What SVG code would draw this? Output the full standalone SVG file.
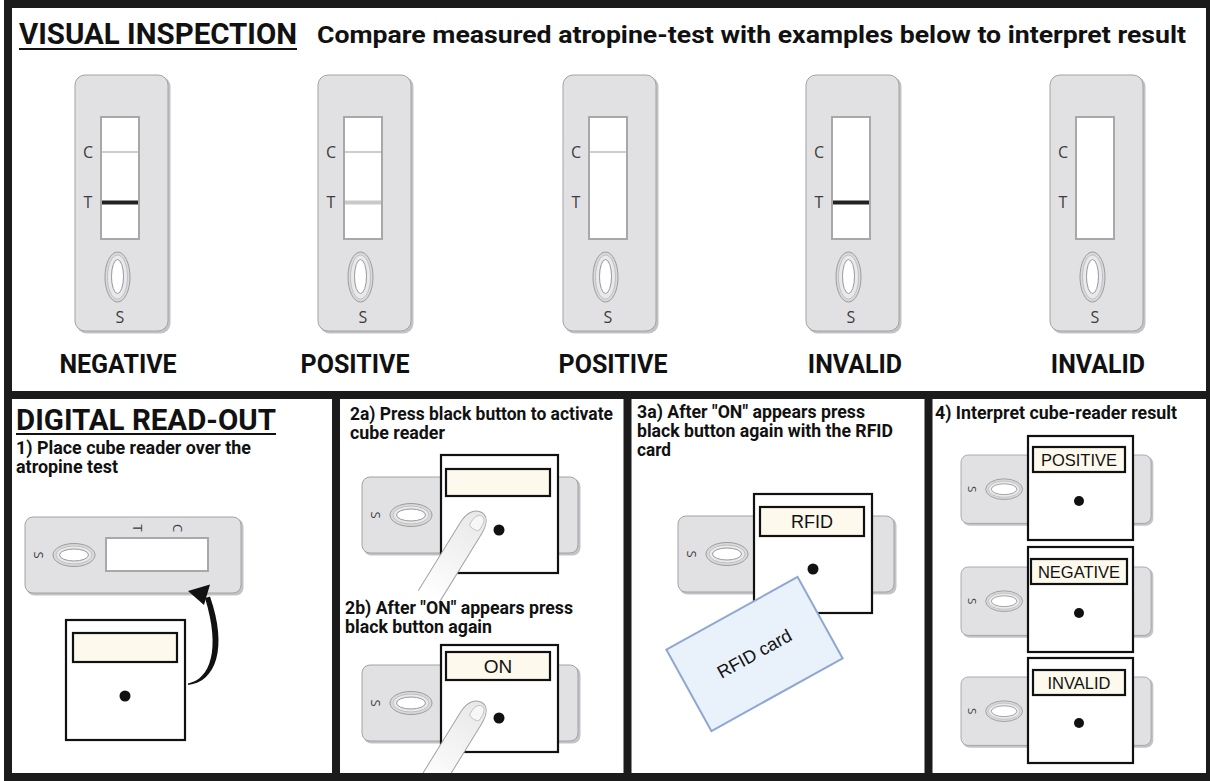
<svg xmlns="http://www.w3.org/2000/svg" xmlns:xlink="http://www.w3.org/1999/xlink" width="1210" height="781" viewBox="0 0 1210 781">
  <style>
    .hd { font-family: Roboto, "Liberation Sans", sans-serif; font-weight: 700; fill: #111; }
    .step { font-size: 17.5px; }
    .lbl { font-size: 25px; text-anchor: middle; }
    .ct { font-family: "Open Sans", "Noto Sans", sans-serif; font-size: 16px; fill: #3c3c3c; text-anchor: middle; }
    .cts { font-family: "Open Sans", "Noto Sans", sans-serif; font-size: 13px; fill: #3c3c3c; text-anchor: middle; }
    .disp { font-family: "Liberation Sans", Arial, sans-serif; fill: #111; text-anchor: middle; }
    .body { fill: #e1e1e4; stroke: #a3a3a6; stroke-width: 1; }
    .shade { fill: #c2c3c7; }
    .win { fill: #fff; stroke: #a8a8ab; stroke-width: 2; }
    .cube { fill: #fff; stroke: #111; stroke-width: 2.2; }
    .screen { fill: #fdf9ec; stroke: #111; stroke-width: 2.2; }
    .btn { fill: #111; }
    .frame { fill: none; stroke: #1b1b1b; stroke-width: 8; }
    .cline { stroke: #bdbdbd; stroke-width: 1.3; }
  </style>
  <defs>
    <!-- upright test cassette, 95 x 258 -->
    <g id="vcass">
      <rect class="shade" x="1.5" y="1.5" width="94" height="257" rx="10"/>
      <rect class="body" x="0" y="0" width="93" height="256" rx="10"/>
      <rect class="win" x="26" y="42" width="38" height="122"/>
      <text class="ct" x="13" y="83">C</text>
      <text class="ct" x="13" y="133">T</text>
      <ellipse cx="42.5" cy="202" rx="12.5" ry="25" fill="#d9d9dc" stroke="#9c9c9f" stroke-width="1"/>
      <ellipse cx="42.5" cy="202" rx="10" ry="22" fill="#e9e9eb" stroke="#b8b8bb" stroke-width="0.8"/>
      <ellipse cx="42.5" cy="201.5" rx="6" ry="17" fill="#fff" stroke="#999" stroke-width="1"/>
      <text class="ct" x="45" y="248">S</text>
    </g>
    <!-- lying test cassette, 218 x 78 -->
    <g id="hcass">
      <rect class="shade" x="1.5" y="1.5" width="217" height="77" rx="8"/>
      <rect class="body" x="0" y="0" width="216" height="76" rx="8"/>
      <ellipse cx="49" cy="38" rx="21" ry="11.5" fill="#d9d9dc" stroke="#9c9c9f" stroke-width="1"/>
      <ellipse cx="49" cy="38" rx="18" ry="9" fill="#e9e9eb" stroke="#b8b8bb" stroke-width="0.8"/>
      <ellipse cx="49" cy="38" rx="14.5" ry="6" fill="#fff" stroke="#999" stroke-width="1"/>
      <text class="cts" transform="translate(13,38) rotate(90)" y="4.5">S</text>
    </g>
    <linearGradient id="skin" x1="0" y1="0" x2="0" y2="1">
      <stop offset="0" stop-color="#e8e8e9"/>
      <stop offset="0.55" stop-color="#f4f4f4"/>
      <stop offset="1" stop-color="#ffffff"/>
    </linearGradient>
    <!-- pressing finger, tip at origin, pointing up -->
    <g id="finger">
      <path d="M-12,100 L-12,19 C-12,7 -6,0 1,0 C8,0 12,7 12,19 L12,100" fill="url(#skin)" stroke="#a3a3a3" stroke-width="1"/>
      <path d="M-3,17 C-4,8 -1,3 3,3 C7,3 9,8 8,17 C5,19 0,19 -3,17 Z" fill="#f7f7f7" stroke="#bcbcbc" stroke-width="0.8"/>
    </g>
  </defs>

  <rect x="0" y="0" width="1210" height="781" fill="#fff"/>

  <!-- top section: visual inspection -->
  <g id="visual-title">
    <text class="hd" x="19" y="44" font-size="29" textLength="278" lengthAdjust="spacingAndGlyphs">VISUAL INSPECTION</text>
    <line x1="19" y1="49" x2="297" y2="49" stroke="#111" stroke-width="2"/>
    <text class="hd" x="317" y="43" font-size="24" textLength="869" lengthAdjust="spacingAndGlyphs">Compare measured atropine-test with examples below to interpret result</text>
  </g>

  <g id="strip-negative">
    <use xlink:href="#vcass" transform="translate(75,75)"/>
    <line class="cline" x1="102" y1="152" x2="138" y2="152"/>
    <line x1="102" y1="202.5" x2="138" y2="202.5" stroke="#222" stroke-width="4"/>
    <text class="hd lbl" x="118" y="373">NEGATIVE</text>
  </g>
  <g id="strip-positive-1">
    <use xlink:href="#vcass" transform="translate(318,75)"/>
    <line class="cline" x1="345" y1="152" x2="381" y2="152"/>
    <line x1="345" y1="202.5" x2="381" y2="202.5" stroke="#c9c9cb" stroke-width="4"/>
    <text class="hd lbl" x="355" y="373">POSITIVE</text>
  </g>
  <g id="strip-positive-2">
    <use xlink:href="#vcass" transform="translate(563,75)"/>
    <line class="cline" x1="590" y1="152" x2="626" y2="152"/>
    <text class="hd lbl" x="613" y="373">POSITIVE</text>
  </g>
  <g id="strip-invalid-1">
    <use xlink:href="#vcass" transform="translate(806,75)"/>
    <line x1="833" y1="202.5" x2="869" y2="202.5" stroke="#222" stroke-width="4"/>
    <text class="hd lbl" x="855" y="373">INVALID</text>
  </g>
  <g id="strip-invalid-2">
    <use xlink:href="#vcass" transform="translate(1050,75)"/>
    <text class="hd lbl" x="1098" y="373">INVALID</text>
  </g>

  <!-- panel 1 -->
  <g id="step-1">
    <text class="hd" x="16" y="430" font-size="29" textLength="260" lengthAdjust="spacingAndGlyphs">DIGITAL READ-OUT</text>
    <line x1="16" y1="434" x2="276" y2="434" stroke="#111" stroke-width="2"/>
    <text class="hd step" x="16" y="454" textLength="235" lengthAdjust="spacingAndGlyphs">1) Place cube reader over the</text>
    <text class="hd step" x="16" y="473" textLength="102" lengthAdjust="spacingAndGlyphs">atropine test</text>
    <use xlink:href="#hcass" transform="translate(25,517)"/>
    <rect class="win" x="106" y="538" width="102" height="33"/>
    <text class="cts" transform="translate(137,528) rotate(90)" y="4.5">T</text>
    <text class="cts" transform="translate(177,528) rotate(90)" y="4.5">C</text>
    <rect class="cube" x="66" y="620" width="119" height="120"/>
    <rect class="screen" x="73" y="633" width="104" height="29"/>
    <circle class="btn" cx="125" cy="696" r="5.5"/>
  </g>

  <g id="connectors">
    <path d="M188,683.5 C210,679 221,650 205,598 L210,596.5 C228,648 216,682 188,685 Z" fill="#111"/>
    <path d="M188,591 L210,584.5 L204,605 Z" fill="#111"/>
  </g>

  <!-- panel 2 -->
  <g id="step-2a">
    <text class="hd step" x="350" y="420" textLength="263" lengthAdjust="spacingAndGlyphs">2a) Press black button to activate</text>
    <text class="hd step" x="350" y="439" textLength="95" lengthAdjust="spacingAndGlyphs">cube reader</text>
    <use xlink:href="#hcass" transform="translate(362,477)"/>
    <rect class="cube" x="441" y="455" width="117" height="118"/>
    <rect class="screen" x="446" y="469" width="104" height="27"/>
    <circle class="btn" cx="499" cy="530" r="5.5"/>
    <use xlink:href="#finger" transform="translate(481,512) rotate(31.7)"/>
  </g>
  <g id="step-2b">
    <text class="hd step" x="345" y="614" textLength="228" lengthAdjust="spacingAndGlyphs">2b) After "ON" appears press</text>
    <text class="hd step" x="345" y="633" textLength="147" lengthAdjust="spacingAndGlyphs">black button again</text>
    <use xlink:href="#hcass" transform="translate(362,665)"/>
    <rect class="cube" x="441" y="645" width="117" height="107"/>
    <rect class="screen" x="446" y="652" width="104" height="28"/>
    <text class="disp" x="498" y="673" font-size="19">ON</text>
    <circle class="btn" cx="499" cy="718" r="5.5"/>
    <use xlink:href="#finger" transform="translate(481,702) rotate(31.7)"/>
  </g>

  <!-- panel 3 -->
  <g id="step-3a">
    <text class="hd step" x="637" y="418" textLength="228" lengthAdjust="spacingAndGlyphs">3a) After "ON" appears press</text>
    <text class="hd step" x="637" y="437" textLength="256" lengthAdjust="spacingAndGlyphs">black button again with the RFID</text>
    <text class="hd step" x="637" y="456" textLength="34" lengthAdjust="spacingAndGlyphs">card</text>
    <use xlink:href="#hcass" transform="translate(678,516)"/>
    <rect class="cube" x="754" y="494" width="118" height="119"/>
    <rect class="screen" x="760" y="507" width="104" height="29"/>
    <text class="disp" x="812" y="528" font-size="18">RFID</text>
    <circle class="btn" cx="813" cy="569" r="5.5"/>
    <g transform="translate(754.5,654) rotate(-29)">
      <rect x="-75" y="-46.5" width="150" height="93" fill="#e9f1fb" stroke="#8ea8d2" stroke-width="2"/>
      <text class="disp" x="0" y="6" font-size="18">RFID card</text>
    </g>
  </g>

  <!-- panel 4 -->
  <g id="step-4">
    <text class="hd step" x="935" y="419" textLength="242" lengthAdjust="spacingAndGlyphs">4) Interpret cube-reader result</text>
  </g>
  <g id="result-positive">
    <use xlink:href="#hcass" transform="translate(961,455) scale(0.88,0.9)"/>
    <rect class="cube" x="1028" y="436" width="105" height="104"/>
    <rect class="screen" x="1033" y="447" width="92" height="25"/>
    <text class="disp" x="1079" y="466" font-size="16.5">POSITIVE</text>
    <circle class="btn" cx="1079" cy="501" r="5"/>
  </g>
  <g id="result-negative">
    <use xlink:href="#hcass" transform="translate(961,567) scale(0.88,0.9)"/>
    <rect class="cube" x="1028" y="547" width="105" height="105"/>
    <rect class="screen" x="1031" y="559" width="96" height="25"/>
    <text class="disp" x="1079" y="578" font-size="16.5">NEGATIVE</text>
    <circle class="btn" cx="1079" cy="613" r="5"/>
  </g>
  <g id="result-invalid">
    <use xlink:href="#hcass" transform="translate(961,677) scale(0.88,0.9)"/>
    <rect class="cube" x="1028" y="658" width="105" height="105"/>
    <rect class="screen" x="1033" y="670" width="92" height="25"/>
    <text class="disp" x="1079" y="689" font-size="16.5">INVALID</text>
    <circle class="btn" cx="1079" cy="723" r="5"/>
  </g>

  <!-- panel borders -->
  <g id="frame">
    <rect class="frame" x="8" y="4" width="1202" height="773"/>
    <line class="frame" x1="8" y1="395" x2="1210" y2="395"/>
    <line class="frame" x1="336" y1="395" x2="336" y2="777"/>
    <line class="frame" x1="627.5" y1="395" x2="627.5" y2="777"/>
    <line class="frame" x1="928.5" y1="395" x2="928.5" y2="777"/>
  </g>
</svg>
